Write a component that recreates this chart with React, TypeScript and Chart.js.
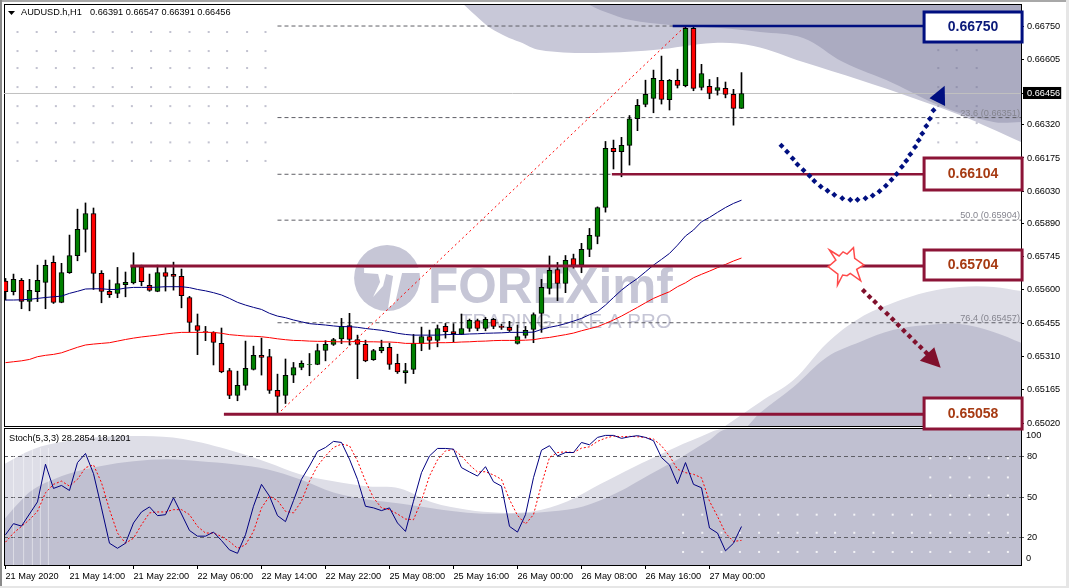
import { useEffect, useRef } from "react";
import { Chart, registerables } from "chart.js";

Chart.register(...registerables);

// candles, oldest first (AUDUSD H1)
const opens = [
  0.65639, 0.65592, 0.65642, 0.6555, 0.65592, 0.65633, 0.6572, 0.65546, 0.65675, 0.65749,
  0.65864, 0.65933, 0.65672, 0.65594, 0.65585, 0.65623, 0.65631, 0.65701, 0.6562, 0.65594,
  0.65676, 0.65668, 0.65659, 0.65567, 0.65445, 0.65419, 0.65415, 0.65367, 0.65249, 0.6514,
  0.65184, 0.65254, 0.65315, 0.6531, 0.65162, 0.6514, 0.65228, 0.65262, 0.65274, 0.65275,
  0.65336, 0.65363, 0.65387, 0.65445, 0.65384, 0.65363, 0.65296, 0.65335, 0.6535, 0.6528,
  0.65239, 0.65254, 0.65367, 0.65397, 0.6538, 0.65441, 0.65419, 0.65406, 0.65432, 0.65466,
  0.65432, 0.65472, 0.65441, 0.65437, 0.65367, 0.65402, 0.65428, 0.65498, 0.65607, 0.65689,
  0.65628, 0.65737, 0.65708, 0.65777, 0.65833, 0.65959, 0.66217, 0.66202, 0.6623, 0.66346,
  0.66408, 0.66434, 0.66513, 0.66429, 0.66513, 0.6649, 0.6674, 0.66482, 0.66487, 0.66469,
  0.66478, 0.66452, 0.66391,
];
const highs = [
  0.6565, 0.65669, 0.6565, 0.65646, 0.65708, 0.6573, 0.65748, 0.65716, 0.65839, 0.65952,
  0.65979, 0.65957, 0.65684, 0.65643, 0.65698, 0.65678, 0.65762, 0.65708, 0.65669, 0.65708,
  0.65704, 0.65721, 0.65691, 0.65572, 0.65495, 0.65441, 0.65418, 0.65434, 0.65258, 0.65246,
  0.65377, 0.65355, 0.6539, 0.65341, 0.65233, 0.65299, 0.65284, 0.65291, 0.65323, 0.65364,
  0.65379, 0.65389, 0.65476, 0.65498, 0.65403, 0.65381, 0.65341, 0.65381, 0.65368, 0.6532,
  0.6528, 0.65406, 0.65438, 0.65425, 0.65447, 0.65454, 0.65453, 0.65495, 0.65473, 0.65473,
  0.6548, 0.65476, 0.65451, 0.65463, 0.65447, 0.65441, 0.655, 0.65646, 0.65748, 0.6572,
  0.6575, 0.65756, 0.65803, 0.65868, 0.65962, 0.66247, 0.66253, 0.66265, 0.6636, 0.6643,
  0.66514, 0.66558, 0.66619, 0.66517, 0.66562, 0.6675, 0.6675, 0.66583, 0.66517, 0.66526,
  0.66506, 0.66474, 0.66547,
];
const lows = [
  0.65556, 0.65578, 0.65518, 0.65509, 0.65549, 0.65518, 0.65541, 0.65544, 0.65672, 0.65727,
  0.65765, 0.65602, 0.65544, 0.65567, 0.65566, 0.6557, 0.65626, 0.65618, 0.65594, 0.65592,
  0.65595, 0.65599, 0.65522, 0.65416, 0.65318, 0.65379, 0.65273, 0.65239, 0.65126, 0.65117,
  0.65164, 0.65251, 0.65229, 0.65149, 0.65058, 0.65105, 0.65196, 0.65252, 0.65226, 0.65274,
  0.65291, 0.65358, 0.65366, 0.6536, 0.65213, 0.65287, 0.65293, 0.65326, 0.65254, 0.65236,
  0.65193, 0.65235, 0.65335, 0.65341, 0.65352, 0.6539, 0.65373, 0.65405, 0.65419, 0.65422,
  0.65422, 0.65431, 0.65428, 0.65419, 0.65364, 0.6539, 0.6537, 0.65415, 0.65582, 0.65553,
  0.65588, 0.65695, 0.65675, 0.65745, 0.65801, 0.65939, 0.66127, 0.66093, 0.66144, 0.66294,
  0.66398, 0.66372, 0.6641, 0.66384, 0.6648, 0.66485, 0.66468, 0.66471, 0.66433, 0.66449,
  0.66437, 0.66318, 0.66391,
];
const closes = [
  0.65592, 0.65646, 0.6555, 0.65598, 0.65642, 0.65707, 0.65546, 0.65676, 0.6575, 0.65864,
  0.65933, 0.65672, 0.65594, 0.65579, 0.65628, 0.65633, 0.65701, 0.65636, 0.65598, 0.65676,
  0.65659, 0.65659, 0.65575, 0.65458, 0.65424, 0.65418, 0.65371, 0.65243, 0.6514, 0.65184,
  0.65258, 0.65315, 0.65306, 0.65162, 0.65136, 0.65228, 0.65262, 0.6528, 0.65275, 0.65336,
  0.65363, 0.65384, 0.65441, 0.65384, 0.65363, 0.65291, 0.65336, 0.6535, 0.65275, 0.65243,
  0.65249, 0.65367, 0.65397, 0.6538, 0.65432, 0.65418, 0.65409, 0.65432, 0.65467, 0.65432,
  0.65472, 0.65441, 0.65437, 0.65424, 0.65397, 0.65424, 0.65493, 0.65611, 0.65685, 0.65628,
  0.65729, 0.65707, 0.65777, 0.65838, 0.65959, 0.66217, 0.66202, 0.6623, 0.66346, 0.66404,
  0.66452, 0.66522, 0.6643, 0.66513, 0.66491, 0.6674, 0.66478, 0.66543, 0.66456, 0.66482,
  0.66452, 0.66391, 0.66456,
];
const maBlue = [
  0.65556, 0.65556, 0.65557, 0.65559, 0.65563, 0.65567, 0.6557, 0.65573, 0.65585, 0.65594,
  0.65604, 0.65605, 0.65605, 0.65602, 0.65602, 0.65608, 0.65611, 0.65611, 0.65611, 0.65612,
  0.65614, 0.65614, 0.65614, 0.6561, 0.65602, 0.65596, 0.65588, 0.65578, 0.65563, 0.65546,
  0.65534, 0.65524, 0.65515, 0.65498, 0.65486, 0.65479, 0.65469, 0.65461, 0.65453, 0.6545,
  0.65447, 0.65443, 0.6544, 0.6544, 0.65437, 0.65432, 0.65428, 0.65424, 0.65418, 0.65411,
  0.65406, 0.65403, 0.65403, 0.65403, 0.65403, 0.65405, 0.65406, 0.65406, 0.65408, 0.65409,
  0.65411, 0.65412, 0.65413, 0.65415, 0.65415, 0.65415, 0.65416, 0.65428, 0.65437, 0.65444,
  0.65453, 0.65464, 0.65476, 0.65492, 0.65506, 0.65534, 0.65567, 0.65599, 0.65626, 0.6565,
  0.65679, 0.65708, 0.65733, 0.65759, 0.65795, 0.65835, 0.65861, 0.65897, 0.65916, 0.65938,
  0.65959, 0.65977, 0.65991,
];
const maRed = [
  0.65283, 0.65287, 0.65291, 0.65297, 0.65309, 0.65315, 0.65319, 0.65326, 0.65338, 0.6535,
  0.6536, 0.65364, 0.65367, 0.6537, 0.65377, 0.65384, 0.6539, 0.65395, 0.65399, 0.65403,
  0.65408, 0.65412, 0.65415, 0.65415, 0.65415, 0.65415, 0.65415, 0.65411, 0.65405, 0.65402,
  0.65399, 0.65398, 0.65396, 0.65392, 0.65387, 0.65383, 0.6538, 0.65379, 0.65377, 0.65376,
  0.65376, 0.65374, 0.65374, 0.65374, 0.65376, 0.65374, 0.65374, 0.65373, 0.65373, 0.65371,
  0.65367, 0.65367, 0.65367, 0.65368, 0.6537, 0.6537, 0.65371, 0.65373, 0.65374, 0.65376,
  0.65377, 0.65379, 0.6538, 0.6538, 0.6538, 0.65381, 0.65383, 0.65389, 0.65393, 0.65399,
  0.65405, 0.65412, 0.65422, 0.65431, 0.6544, 0.65454, 0.65469, 0.65486, 0.65505, 0.65524,
  0.65544, 0.65563, 0.65578, 0.65592, 0.65614, 0.65631, 0.65653, 0.65668, 0.65682, 0.65697,
  0.65711, 0.65726, 0.65739,
];
const stochK = [
  22.2, 30.4, 28.6, 37.5, 46.4, 74.1, 56.3, 58.5, 54.8, 75.3,
  82.0, 67.2, 42.0, 16.0, 12.3, 16.0, 30.9, 39.0, 42.7, 36.3,
  37.0, 49.4, 37.5, 25.4, 21.2, 21.2, 24.2, 18.0, 11.1, 8.6,
  22.2, 43.2, 59.3, 50.6, 36.3, 31.9, 47.4, 63.0, 72.8, 83.5,
  86.4, 90.9, 90.1, 77.8, 63.0, 43.2, 42.0, 40.0, 42.0, 30.9,
  24.7, 46.9, 67.9, 80.2, 85.7, 85.7, 85.2, 71.6, 68.4, 65.4,
  72.3, 61.2, 58.0, 28.4, 24.2, 37.0, 64.2, 84.4, 87.7, 80.2,
  82.7, 82.7, 90.1, 88.4, 93.8, 95.3, 95.3, 93.1, 94.3, 95.1,
  93.8, 91.4, 79.0, 73.6, 59.7, 75.3, 59.3, 56.8, 27.2, 23.5,
  10.4, 16.0, 28.2854,
];
const stochD = [
  16.8, 23.5, 28.4, 33.3, 39.5, 53.1, 59.3, 61.7, 58.0, 63.0,
  71.6, 73.6, 60.5, 40.7, 23.5, 16.0, 19.7, 29.6, 38.3, 39.0,
  39.0, 40.7, 40.7, 37.0, 28.4, 23.5, 23.5, 21.0, 17.3, 12.3,
  14.8, 24.7, 42.0, 50.6, 47.4, 39.5, 38.3, 46.9, 61.7, 72.8,
  80.2, 86.4, 88.9, 87.7, 76.5, 61.7, 49.4, 42.0, 40.7, 37.5,
  33.8, 33.3, 47.4, 65.4, 77.3, 83.9, 84.9, 80.2, 73.6, 68.4,
  68.6, 66.2, 63.0, 48.1, 36.5, 30.1, 37.0, 59.3, 79.0, 82.7,
  83.2, 82.7, 85.9, 86.9, 90.9, 93.3, 94.8, 94.3, 94.6, 94.3,
  93.8, 92.6, 87.7, 80.2, 70.4, 67.9, 66.7, 64.2, 46.9, 35.8,
  23.5, 17.3, 18.1201,
];

const priceTicks = [0.6675, 0.66605, 0.66456, 0.6632, 0.66175, 0.6603, 0.6589, 0.65745, 0.656, 0.65455, 0.6531, 0.65165, 0.6502];
const lastPrice = 0.66456;
const stochTicks = [80, 50, 20];
const timeBars = [0, 8, 16, 24, 32, 40, 48, 56, 64, 72, 80, 88];
const timeLabels = [
  "21 May 2020", "21 May 14:00", "21 May 22:00", "22 May 06:00", "22 May 14:00", "22 May 22:00",
  "25 May 08:00", "25 May 16:00", "26 May 00:00", "26 May 08:00", "26 May 16:00", "27 May 00:00",
];

// fibonacci grid and the trend line it hangs on
const fibLevels = [0.6675, 0.66351, 0.66104, 0.65904, 0.65704, 0.65457, 0.65058];
const fibLabels = ["23.6 (0.66351)", "50.0 (0.65904)", "76.4 (0.65457)"];
const fibLabelLevels = [0.66351, 0.65904, 0.65457];
const trendBars = [34, 85];
const trendPrices = [0.65058, 0.6675];

// support and resistance levels with their boxes
const levels = [0.6675, 0.66104, 0.65704, 0.65058];
const levelLabels = ["0.66750", "0.66104", "0.65704", "0.65058"];
const levelStartBars = [83.4, 75.8, 15.6, 27.3];

// hand drawn forecast arrows
const curveBars = [97, 97.7, 98.4, 99, 99.75, 100.5, 101.1, 101.9, 102.75, 103.6, 104.6, 105.6, 106.5, 107.5, 108.4, 109.25, 110.05, 110.75, 111.4, 112.05, 112.6, 113.1, 113.7, 114.15, 114.6, 115.1, 115.55, 116];
const curvePrices = [0.66228, 0.66202, 0.66173, 0.66147, 0.66122, 0.66098, 0.66075, 0.66051, 0.66032, 0.66015, 0.65999, 0.65993, 0.65993, 0.66, 0.66012, 0.6603, 0.66054, 0.6608, 0.66105, 0.66137, 0.66163, 0.66191, 0.66223, 0.66252, 0.66282, 0.66314, 0.66346, 0.66383];
const curveHeadBars = [117.4, 115.5, 117.45];
const curveHeadPrices = [0.6649, 0.66435, 0.66401];
const dropBars = [107.3, 108, 108.7, 109.4, 110.2, 110.9, 111.6, 112.3, 113, 113.7, 114.4, 115.1];
const dropPrices = [0.65595, 0.6557, 0.65547, 0.65521, 0.65496, 0.65472, 0.65447, 0.65422, 0.65398, 0.65373, 0.6535, 0.65326];
const dropHeadBars = [116.1, 114.3, 116.9];
const dropHeadPrices = [0.6535, 0.65291, 0.65261];
const starBars = [103, 104.2, 104.7, 105.2, 106, 106.15, 107.3, 106.4, 106.9, 105.6, 105.2, 104.65, 104, 104.05, 102.85, 103.8];
const starPrices = [0.65774, 0.65748, 0.65766, 0.65756, 0.65784, 0.65738, 0.65709, 0.6569, 0.6564, 0.65672, 0.65662, 0.65665, 0.65621, 0.65669, 0.65701, 0.6573];

// background artwork of the screenshot
const topLightBars = [57.2, 58.7, 60.6, 62.5, 64.3, 66.8, 72.7, 81, 88.5, 93.5, 99.7, 106.8, 113.1, 119.3, 127];
const topLightPrices = [0.66846, 0.66798, 0.66741, 0.66706, 0.6668, 0.66645, 0.66632, 0.66645, 0.66676, 0.66663, 0.66593, 0.66515, 0.66441, 0.66362, 0.66244];
const topDarkBars = [72.7, 75, 78.1, 83.1, 89.3, 94.3, 99.7, 104.7, 110.9, 117.2, 123.5, 127];
const topDarkPrices = [0.66846, 0.66811, 0.66776, 0.66754, 0.66741, 0.66724, 0.66698, 0.66593, 0.66502, 0.66397, 0.66332, 0.66332];
const lowLightBars = [89.96, 94.3, 98.5, 102.7, 106.8, 110.9, 115.2, 119.3, 123.5, 127];
const lowLightPrices = [0.65007, 0.65111, 0.65207, 0.65369, 0.65478, 0.65543, 0.65591, 0.65613, 0.65613, 0.65595];
const lowMidBars = [92.8, 94.3, 98.5, 102.7, 106.8, 110.9, 115.2, 119.3, 123.5, 127];
const lowMidPrices = [0.65007, 0.65064, 0.65177, 0.65308, 0.65373, 0.65425, 0.65447, 0.65451, 0.65417, 0.65369];
const stochLightBars = [-0.2, 3.46, 7.7, 11.8, 17.2, 22.2, 28.5, 32.7, 36.8, 41, 45.2, 49.3, 53.4, 57.7, 61.8, 65.9, 70.2, 74.3, 78.5, 82.7, 86.8, 89.7, 127];
const stochLightValues = [74.1, 85.2, 91.1, 94.1, 94.8, 92.6, 83.7, 75.6, 66.7, 61.5, 57.8, 56.3, 45.9, 40.7, 38.5, 39.3, 46.7, 59.3, 71.9, 83.7, 94.1, 100, 100];
const stochMidBars = [-0.2, 1.46, 3.46, 7.7, 11.8, 16, 20.2, 24.3, 28.5, 32.7, 36.8, 41, 45.2, 49.3, 57.7, 64, 68.1, 72.2, 76.5, 80.6, 84.7, 87.8, 90.3, 127];
const stochMidValues = [33.3, 44.4, 55.6, 66.7, 72.6, 76.3, 77.8, 76.3, 74.1, 70.4, 63, 53.3, 48.1, 45.2, 38.5, 37.8, 39.3, 43, 53.3, 66.7, 80, 91.1, 100, 100];
const stripeBars = [0.94, 2.2, 3.3, 4.3, 5.3];

const dotBarsLeft = [1.5, 3.9, 6.3, 8.6, 11, 13.4, 15.8, 18.2, 20.6, 23, 25.4, 27.7, 30.2, 32.5];
const dotPricesLeft = [0.66724, 0.66641, 0.66567, 0.66484, 0.66401, 0.66327, 0.66243, 0.66162];
const dotBarsRight = [116.6, 118.9, 121.4];
const dotPricesRight = [0.66645, 0.66567, 0.66484, 0.66401, 0.66327, 0.66243];
const stochDotBars = [84.7, 87.1, 89.5, 91.8, 94.2, 96.6, 99, 101.4, 103.7, 106.1, 108.5, 110.9, 113.3, 115.6, 118.1, 120.5, 122.9, 125.3];
const stochDotValues = [37, 23.7, 9.6];
const stochDotBarsHigh = [115.6, 118.1, 120.5, 122.9, 125.3];
const stochDotValuesHigh = [78.5, 64.4, 51.1];

const FONT = '"Liberation Sans", Arial, sans-serif';
const TEXT_SIZE = 9.2;
const NAVY = "#000f80";
const MAROON = "#8c1437";
const BAR_MIN = -0.1875;
const BAR_MAX = 126.94;

const pts = (xs: number[], ys: number[]) => xs.map((x, i) => ({ x, y: ys[i] }));
const series = (ys: number[]) => ys.map((y, x) => ({ x, y }));

const shape = (xs: number[], ys: number[], color: string, fill: string, order: number) => ({
  type: "line" as const,
  data: pts(xs, ys),
  borderWidth: 0,
  pointRadius: 0,
  tension: 0.35,
  backgroundColor: color,
  fill,
  order,
});

const line = (data: any[], color: string, width: number, order: number, dash: number[] = []) => ({
  type: "line" as const,
  data,
  borderColor: color,
  borderWidth: width,
  borderDash: dash,
  pointRadius: 0,
  fill: false,
  order,
});

const dots = (xs: number[], ys: number[], color: string) => ({
  type: "line" as const,
  data: pts(xs, ys),
  showLine: false,
  pointStyle: "rectRot",
  pointRadius: 3,
  pointBackgroundColor: color,
  pointBorderWidth: 0,
  order: 0,
});

const fixAxis = (width: number) => (s: any) => {
  s.width = width;
  s.paddingTop = 0;
  s.paddingBottom = 0;
};

const polygon = (chart: any, xs: number[], ys: number[], fill: string, stroke?: string) => {
  const { ctx, scales } = chart;
  ctx.beginPath();
  xs.forEach((b, i) => {
    const px = scales.x.getPixelForValue(b);
    const py = scales.y.getPixelForValue(ys[i]);
    if (i === 0) ctx.moveTo(px, py);
    else ctx.lineTo(px, py);
  });
  ctx.closePath();
  ctx.fillStyle = fill;
  ctx.fill();
  if (stroke) {
    ctx.strokeStyle = stroke;
    ctx.lineWidth = 1.5;
    ctx.stroke();
  }
};

const dotGrid = (chart: any, xs: number[], ys: number[], color: string) => {
  const { ctx, scales } = chart;
  ctx.fillStyle = color;
  ys.forEach((v) => {
    xs.forEach((b) => {
      ctx.fillRect(scales.x.getPixelForValue(b) - 1, scales.y.getPixelForValue(v) - 1, 2, 2);
    });
  });
};

const frame = (chart: any, topShift: number) => {
  const { ctx, chartArea: a } = chart;
  ctx.save();
  ctx.strokeStyle = "#000";
  ctx.lineWidth = 1;
  ctx.strokeRect(a.left + 0.5, a.top + 0.5 - topShift, a.right - a.left, a.bottom - a.top + topShift);
  ctx.restore();
};

const watermark = (chart: any) => {
  const { ctx, scales } = chart;
  const col = "#c6c6d6";
  const cx = scales.x.getPixelForValue(47.7);
  const cy = scales.y.getPixelForValue(0.65652);
  ctx.save();
  ctx.fillStyle = col;
  ctx.beginPath();
  ctx.arc(cx, cy, 33, 0, Math.PI * 2);
  ctx.fill();
  // the white cut in the logo
  const cut = [[-23, -10], [35, -10], [35, -5], [15, -5], [8, 25], [1, 30], [6, -2], [-1, -4], [-4, 8], [-14, 19], [-7, 4], [-9, -4], [-23, -5]];
  ctx.fillStyle = "#fff";
  ctx.beginPath();
  cut.forEach(([dx, dy], i) => (i === 0 ? ctx.moveTo(cx + dx, cy + dy) : ctx.lineTo(cx + dx, cy + dy)));
  ctx.closePath();
  ctx.fill();
  ctx.fillStyle = col;
  ctx.textAlign = "left";
  ctx.textBaseline = "alphabetic";
  ctx.font = `bold 49.5px ${FONT}`;
  ctx.fillText("FOREXimf", scales.x.getPixelForValue(52.8), scales.y.getPixelForValue(0.65543));
  ctx.font = `20.5px ${FONT}`;
  ctx.fillText("TRADING LIKE A PRO", scales.x.getPixelForValue(56.8), scales.y.getPixelForValue(0.65434));
  ctx.restore();
};

const priceBackdrop = {
  id: "priceBackdrop",
  beforeDatasetsDraw(chart: any) {
    const { ctx, scales, chartArea: a } = chart;
    watermark(chart);
    dotGrid(chart, dotBarsLeft, dotPricesLeft, "rgba(120,120,150,0.45)");
    dotGrid(chart, dotBarsRight, dotPricesRight, "rgba(120,120,150,0.45)");
    frame(chart, 0);
    // header
    ctx.save();
    ctx.fillStyle = "#000";
    ctx.beginPath();
    ctx.moveTo(a.left + 4, a.top + 7);
    ctx.lineTo(a.left + 11, a.top + 7);
    ctx.lineTo(a.left + 7.5, a.top + 11);
    ctx.closePath();
    ctx.fill();
    ctx.font = `${TEXT_SIZE}px ${FONT}`;
    ctx.textBaseline = "middle";
    ctx.fillText("AUDUSD.h,H1", a.left + 17, a.top + 8.5);
    ctx.fillText(
      [opens[92], highs[92], lows[92], closes[92]].map((v) => v.toFixed(5)).join(" "),
      a.left + 86,
      a.top + 8.5
    );
    // fibo captions
    ctx.fillStyle = "#85858f";
    ctx.textAlign = "right";
    ctx.textBaseline = "alphabetic";
    fibLabels.forEach((t, i) => {
      ctx.fillText(t, a.right - 1, scales.y.getPixelForValue(fibLabelLevels[i]) - 2);
    });
    ctx.restore();
  },
};

const priceOverlay = {
  id: "priceOverlay",
  afterDatasetsDraw(chart: any) {
    const { ctx, scales } = chart;
    polygon(chart, curveHeadBars, curveHeadPrices, NAVY);
    polygon(chart, dropHeadBars, dropHeadPrices, "#80102c");
    polygon(chart, starBars, starPrices, "#fff", "#ff4a4a");
    const boxX = scales.x.getPixelForValue(114.7);
    const offs = [-15, -17, -17, -17];
    const hts = [32, 34, 32, 33];
    ctx.save();
    levels.forEach((lv, i) => {
      const py = Math.round(scales.y.getPixelForValue(lv));
      const col = i === 0 ? NAVY : MAROON;
      ctx.fillStyle = "#fff";
      ctx.fillRect(boxX, py + offs[i], 100, hts[i]);
      ctx.strokeStyle = col;
      ctx.lineWidth = 3;
      ctx.strokeRect(boxX + 1, py + offs[i] + 1, 98, hts[i] - 2);
      ctx.fillStyle = i === 0 ? "#0b1a7a" : "#a63a12";
      ctx.font = `bold 14px ${FONT}`;
      ctx.textAlign = "center";
      ctx.textBaseline = "middle";
      ctx.fillText(levelLabels[i], boxX + 50, py + offs[i] + hts[i] / 2 + 0.5);
    });
    ctx.restore();
  },
};

const stochBackdrop = {
  id: "stochBackdrop",
  beforeDatasetsDraw(chart: any) {
    const { ctx, scales, chartArea: a } = chart;
    ctx.save();
    ctx.fillStyle = "rgba(255,255,255,0.45)";
    stripeBars.forEach((b) => {
      const px = scales.x.getPixelForValue(b);
      ctx.fillRect(px, scales.y.getPixelForValue(86), 1, scales.y.getPixelForValue(0) - scales.y.getPixelForValue(86));
    });
    ctx.restore();
    dotGrid(chart, stochDotBars, stochDotValues, "rgba(255,255,255,0.8)");
    dotGrid(chart, stochDotBarsHigh, stochDotValuesHigh, "rgba(255,255,255,0.8)");
    frame(chart, 1);
    ctx.save();
    ctx.fillStyle = "#000";
    ctx.font = `${TEXT_SIZE}px ${FONT}`;
    ctx.textBaseline = "middle";
    ctx.fillText(`Stoch(5,3,3) ${stochK[92].toFixed(4)} ${stochD[92].toFixed(4)}`, a.left + 5, a.top + 9);
    // end labels sit inside the scale, not on their ticks
    ctx.fillText("100", a.right + 5, scales.y.getPixelForValue(100) + 6);
    ctx.fillText("0", a.right + 5, scales.y.getPixelForValue(0) - 7);
    ctx.restore();
  },
};

export default function App() {
  const priceRef = useRef<HTMLCanvasElement | null>(null);
  const stochRef = useRef<HTMLCanvasElement | null>(null);

  useEffect(() => {
    if (!priceRef.current || !stochRef.current) return;

    const wicks = highs.map((h, i) => ({ x: i, y: [lows[i], h] }));
    const bodies = opens.map((o, i) => ({ x: i, y: [o, closes[i]] }));

    const price = new Chart(priceRef.current, {
      type: "bar",
      data: {
        datasets: [
          dots(curveBars, curvePrices, NAVY),
          dots(dropBars, dropPrices, "#80102c"),
          ...levels.map((lv, i) =>
            line(
              [{ x: levelStartBars[i], y: lv }, { x: 115, y: lv }],
              i === 0 ? NAVY : MAROON,
              i === 0 || i === 1 ? 2.5 : 3,
              1
            )
          ),
          line(series(maBlue), "#000080", 1, 2),
          line(series(maRed), "#ff0000", 1, 2),
          {
            type: "bar",
            data: bodies,
            backgroundColor: closes.map((c, i) => (c >= opens[i] ? "#008000" : "#ff0000")),
            borderColor: "#000",
            borderWidth: 1,
            borderSkipped: false,
            barThickness: 5,
            grouped: false,
            order: 3,
          },
          {
            type: "bar",
            data: wicks,
            backgroundColor: "#000",
            barThickness: 1,
            grouped: false,
            order: 4,
          },
          line(pts(trendBars, trendPrices), "#ff0000", 1, 5, [2, 3]),
          ...fibLevels.map((lv) =>
            line([{ x: 34, y: lv }, { x: BAR_MAX, y: lv }], "#5f5f66", 1, 6, [4, 3])
          ),
          line([{ x: BAR_MIN, y: lastPrice }, { x: BAR_MAX, y: lastPrice }], "#c0c0c0", 1, 7),
          shape(lowMidBars, lowMidPrices, "#c0c0d1", "start", 8),
          shape(lowLightBars, lowLightPrices, "#dedee7", "start", 9),
          shape(topDarkBars, topDarkPrices, "#ababc1", "end", 10),
          shape(topLightBars, topLightPrices, "#c8c8d8", "end", 11),
        ] as any,
      },
      options: {
        animation: false,
        responsive: false,
        devicePixelRatio: 1,
        layout: { padding: { left: 4, right: 0, top: 4, bottom: 6 } },
        plugins: {
          legend: { display: false },
          tooltip: { enabled: false },
          filler: { propagate: false, drawTime: "beforeDraw" },
        } as any,
        scales: {
          x: { type: "linear", min: BAR_MIN, max: BAR_MAX, offset: false, display: false },
          y: {
            type: "linear",
            position: "right",
            min: 0.65007,
            max: 0.66846,
            afterBuildTicks: (s: any) => {
              s.ticks = priceTicks.map((value) => ({ value }));
            },
            afterFit: fixAxis(48),
            grid: { drawOnChartArea: false, tickLength: 3, color: "#000" },
            border: { display: false },
            ticks: {
              padding: 3,
              autoSkip: false,
              font: { family: FONT, size: TEXT_SIZE },
              color: (c: any) => (c.tick && c.tick.value === lastPrice ? "#fff" : "#000"),
              showLabelBackdrop: (c: any) => !!c.tick && c.tick.value === lastPrice,
              backdropColor: "#000",
              backdropPadding: { left: 4, right: 1, top: 1, bottom: 0 },
              callback: (v: any) => Number(v).toFixed(5),
            },
          } as any,
        },
      },
      plugins: [priceBackdrop, priceOverlay],
    });

    const stoch = new Chart(stochRef.current, {
      type: "line",
      data: {
        datasets: [
          line(series(stochK), "#000080", 1, 1),
          line(series(stochD), "#ff0000", 1, 2, [2, 2]),
          shape(stochMidBars, stochMidValues, "#c0c0d1", "start", 3),
          shape(stochLightBars, stochLightValues, "#dedee7", "start", 4),
        ] as any,
      },
      options: {
        animation: false,
        responsive: false,
        devicePixelRatio: 1,
        layout: { padding: { left: 4, right: 0, top: 1, bottom: 0 } },
        plugins: {
          legend: { display: false },
          tooltip: { enabled: false },
          filler: { propagate: false, drawTime: "beforeDraw" },
        } as any,
        scales: {
          x: {
            type: "linear",
            min: BAR_MIN,
            max: BAR_MAX,
            afterBuildTicks: (s: any) => {
              s.ticks = timeBars.map((value) => ({ value }));
            },
            afterFit: (s: any) => {
              s.height = 23;
              s.paddingLeft = 0;
              s.paddingRight = 0;
            },
            grid: { drawOnChartArea: false, tickLength: 4, color: "#000" },
            border: { display: false },
            ticks: {
              autoSkip: false,
              maxRotation: 0,
              minRotation: 0,
              align: "start",
              padding: 2,
              color: "#000",
              font: { family: FONT, size: TEXT_SIZE },
              callback: (_v: any, i: number) => timeLabels[i],
            },
          } as any,
          y: {
            type: "linear",
            position: "right",
            min: 0,
            max: 100,
            afterBuildTicks: (s: any) => {
              s.ticks = stochTicks.map((value) => ({ value }));
            },
            afterFit: fixAxis(48),
            grid: { color: "#5f5f66", tickLength: 3 },
            border: { display: false, dash: [4, 3] },
            ticks: {
              padding: 3,
              autoSkip: false,
              color: "#000",
              font: { family: FONT, size: TEXT_SIZE },
            },
          } as any,
        },
      },
      plugins: [stochBackdrop],
    });

    return () => {
      price.destroy();
      stoch.destroy();
    };
  }, []);

  return (
    <div style={{ position: "absolute", left: 0, top: 0, width: 1069, height: 588, background: "#fff", overflow: "hidden" }}>
      <div style={{ position: "absolute", left: 0, top: 0, width: 1069, height: 2, background: "#a8a8a8" }} />
      <div style={{ position: "absolute", left: 0, top: 0, width: 2, height: 588, background: "#8a8a8a" }} />
      <div style={{ position: "absolute", left: 1066, top: 0, width: 3, height: 588, background: "#e6e6e6" }} />
      <div style={{ position: "absolute", left: 0, top: 586, width: 1069, height: 2, background: "#e6e6e6" }} />
      <canvas ref={stochRef} width={1069} height={160} style={{ position: "absolute", left: 0, top: 428 }} />
      <canvas ref={priceRef} width={1069} height={432} style={{ position: "absolute", left: 0, top: 0 }} />
    </div>
  );
}
